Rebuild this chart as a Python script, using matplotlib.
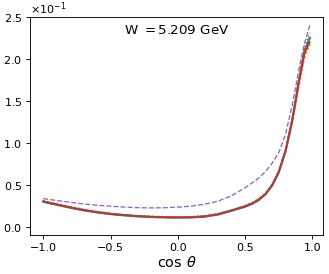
import numpy as np
import matplotlib
matplotlib.use("Agg")
import matplotlib.pyplot as plt

# cos(theta) grid
cos_theta = [-1.0, -0.9, -0.8, -0.7, -0.6, -0.5, -0.4, -0.3, -0.2, -0.1, 0.0,
             0.1, 0.2, 0.3, 0.4, 0.5, 0.55, 0.6, 0.65, 0.7, 0.75, 0.8, 0.85,
             0.9, 0.94, 0.98]

# curves (units of 1e-1)
blue = [0.30, 0.262, 0.228, 0.196, 0.171, 0.151, 0.136, 0.124, 0.116, 0.111, 0.109,
        0.111, 0.121, 0.146, 0.192, 0.240, 0.272, 0.318, 0.385, 0.49, 0.65, 0.90, 1.27,
        1.74, 2.08, 2.25]
orange = [0.31, 0.272, 0.238, 0.205, 0.180, 0.159, 0.143, 0.131, 0.123, 0.118, 0.116,
          0.119, 0.129, 0.155, 0.200, 0.250, 0.285, 0.330, 0.395, 0.50, 0.66, 0.89, 1.24,
          1.68, 2.00, 2.17]
green = [0.295, 0.260, 0.226, 0.195, 0.170, 0.150, 0.135, 0.123, 0.115, 0.110, 0.108,
         0.110, 0.120, 0.145, 0.190, 0.238, 0.270, 0.315, 0.383, 0.49, 0.65, 0.91, 1.28,
         1.76, 2.10, 2.25]
red = [0.30, 0.265, 0.231, 0.199, 0.174, 0.154, 0.139, 0.127, 0.119, 0.114, 0.112,
       0.114, 0.124, 0.149, 0.195, 0.244, 0.277, 0.323, 0.39, 0.495, 0.655, 0.90, 1.26,
       1.72, 2.06, 2.20]
purple = [0.335, 0.312, 0.291, 0.271, 0.256, 0.244, 0.234, 0.227, 0.224, 0.226, 0.233,
          0.246, 0.268, 0.305, 0.37, 0.465, 0.52, 0.58, 0.655, 0.755, 0.885, 1.10, 1.45,
          1.88, 2.18, 2.40]
brown = [0.31, 0.274, 0.240, 0.207, 0.181, 0.160, 0.144, 0.132, 0.124, 0.119, 0.117,
         0.120, 0.130, 0.156, 0.202, 0.252, 0.287, 0.333, 0.40, 0.51, 0.67, 0.92, 1.29,
         1.78, 2.14, 2.31]

x = np.array(cos_theta)

fig = plt.figure(figsize=(329 / 80, 274 / 80), dpi=80)
ax = fig.add_axes([0.091, 0.142, 0.891, 0.796])

ax.plot(x, np.array(blue) * 0.1, color='C0', linestyle='-', linewidth=2)
ax.plot(x, np.array(orange) * 0.1, color='C1', linestyle=':', linewidth=1.5)
ax.plot(x, np.array(green) * 0.1, color='C2', linestyle='-.', linewidth=1.5)
ax.plot(x, np.array(red) * 0.1, color='C3', linestyle='-', linewidth=1.5)
ax.plot(x, np.array(purple) * 0.1, color='C4', linestyle='--', linewidth=1.2)
ax.plot(x, np.array(brown) * 0.1, color='C5', linestyle=':', linewidth=1.2)

ax.set_ylim(-0.01, 0.25)
ax.set_xticks([-1.0, -0.5, 0.0, 0.5, 1.0])
ax.ticklabel_format(axis='y', style='sci', scilimits=(0, 0), useMathText=True)
ax.set_xlabel(r'cos $\theta$', fontsize=13, labelpad=2)
ax.text(0.5, 0.94, r'W $= 5.209$ GeV', transform=ax.transAxes,
        ha='center', va='center', fontsize=12)

fig.savefig('out.png', dpi=80)
